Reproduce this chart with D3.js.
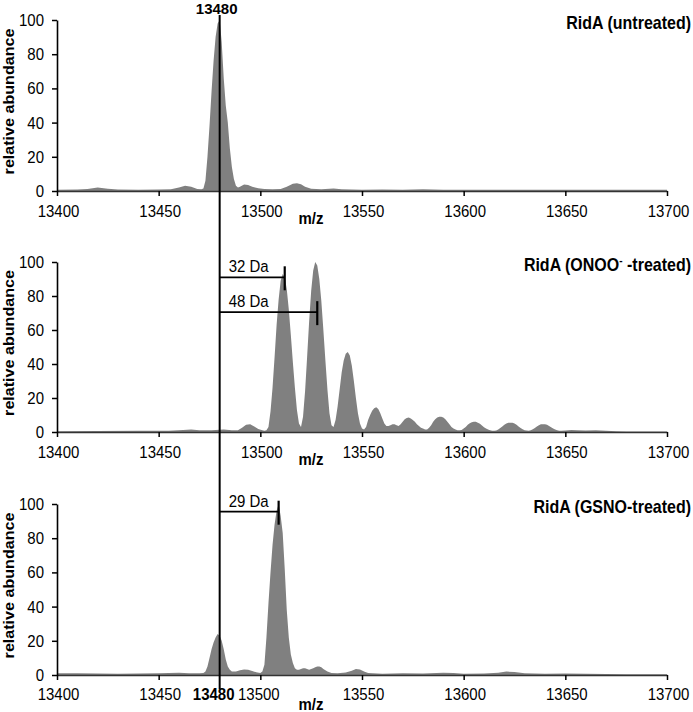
<!DOCTYPE html>
<html><head><meta charset="utf-8">
<script src="https://cdn.jsdelivr.net/npm/d3@7"></script>
<style>
body{margin:0;background:#fff}
svg{display:block}
text{font-family:"Liberation Sans",Arial,sans-serif;fill:#000}
</style>
</head><body>
<svg id="chart" width="693" height="712"></svg>
<script>
// ---------------- data ----------------
const xTicks = [13400, 13450, 13500, 13550, 13600, 13650, 13700];
const yTicks = [0, 20, 40, 60, 80, 100];
const refMass = 13480;

const untreated = [
  [13400,0.8],[13410,0.9],[13415,1.2],[13420,2],[13425,1.3],[13430,0.9],[13440,0.8],[13450,0.9],
  [13456,1],[13460,2],[13463,3],[13466,2.5],[13469,1.2],[13471,1],[13472,1.5],[13473,6],[13474,20],
  [13475,38],[13476,58],[13477,76],[13478,90],[13479,98],[13480,100],[13481,87],[13482,66],[13483,50],
  [13484,40],[13485,25],[13486,14],[13487,7],[13488,3],[13489,2],[13490,2.5],[13492,3.8],[13494,3.5],
  [13496,2.5],[13499,1.6],[13502,1.2],[13506,1],[13510,1.2],[13513,2.5],[13516,4.2],[13518,4.5],
  [13520,4],[13522,2.5],[13525,1.3],[13530,1],[13536,1.5],[13540,1],[13550,0.8],[13560,0.9],
  [13570,0.8],[13580,1],[13590,0.8],[13600,0.7],[13620,0.8],[13640,0.7],[13660,0.8],[13680,0.7],[13700,0.7]
];

const onooTreated = [
  [13400,0.5],[13420,0.6],[13440,0.7],[13455,0.8],[13462,1.2],[13466,1.4],[13470,1],[13476,1.1],
  [13482,1.4],[13486,1.1],[13489,1],[13491,2.5],[13493,4.2],[13495,4.5],[13497,3.3],[13499,1.8],
  [13501,1],[13502,0.8],[13503,1],[13504,3],[13505,12],[13506,26],[13507,44],[13508,63],[13509,78],
  [13510,89],[13511,93],[13512,91],[13513,84],[13514,72],[13515,57],[13516,41],[13517,26],[13518,13],
  [13519,5],[13520,3],[13521,9],[13522,24],[13523,44],[13524,65],[13525,83],[13526,95],[13527,100],
  [13528,98],[13529,90],[13530,77],[13531,60],[13532,42],[13533,25],[13534,11],[13535,4],[13536,3],
  [13537,7],[13538,15],[13539,25],[13540,35],[13541,42],[13542,46],[13543,47],[13544,45],[13545,39],
  [13546,30],[13547,20],[13548,11],[13549,5],[13550,2],[13551,1.5],[13552,3],[13553,7],[13554,10],
  [13555,12.5],[13556,14],[13557,14.5],[13558,13.5],[13559,11],[13560,8],[13561,5],[13562,3.5],
  [13563,3.5],[13564,4],[13565,4.5],[13566,4.5],[13567,4],[13568,3.5],[13569,4.5],[13570,6],[13571,7.5],
  [13572,8.3],[13573,8.5],[13574,8],[13575,7],[13576,6],[13577,4.5],[13578,3.5],[13579,2.5],[13580,2],
  [13581,1.5],[13582,1.5],[13583,2.5],[13584,4],[13585,6],[13586,7.5],[13587,8.5],[13588,9],[13589,9],
  [13590,8.5],[13591,7.5],[13592,6],[13593,4.5],[13594,3],[13595,2],[13596,1.5],[13597,1],[13598,1],
  [13599,1.2],[13600,2],[13601,3],[13602,4.2],[13603,5.2],[13604,5.8],[13605,6],[13606,6],[13607,5.5],
  [13608,4.8],[13609,3.8],[13610,2.8],[13611,2],[13612,1.4],[13613,1],[13614,0.8],[13615,0.8],
  [13616,0.9],[13617,1.4],[13618,2.3],[13619,3.3],[13620,4.3],[13621,5],[13622,5.5],[13623,5.5],
  [13624,5.5],[13625,5],[13626,4.2],[13627,3.2],[13628,2.3],[13629,1.6],[13630,1.1],[13631,0.9],
  [13632,0.8],[13633,1],[13634,1.6],[13635,2.4],[13636,3.3],[13637,4],[13638,4.5],[13639,4.6],
  [13640,4.5],[13641,4.2],[13642,3.6],[13643,2.8],[13644,2],[13645,1.4],[13646,1],[13647,0.8],
  [13648,0.7],[13650,0.9],[13653,1.2],[13656,1.1],[13660,0.9],[13665,1],[13670,0.7],[13675,0.4],
  [13680,0.3],[13700,0.3]
];

const gsnoTreated = [
  [13400,1],[13410,1],[13420,0.9],[13430,0.8],[13440,0.9],[13450,1],[13455,1.2],[13460,1.3],[13465,1],
  [13470,1],[13472,1.2],[13473,2],[13474,5],[13475,10],[13476,15],[13477,19],[13478,22],[13479,24],
  [13480,23],[13481,20],[13482,15],[13483,9],[13484,5],[13485,3],[13486,2],[13488,2],[13490,2.8],
  [13492,3.2],[13494,3],[13496,2.3],[13498,1.6],[13500,1.2],[13501,2],[13502,6],[13503,22],[13504,42],
  [13505,60],[13506,76],[13507,88],[13508,96],[13509,100],[13510,93],[13511,83],[13512,62],[13513,38],
  [13514,22],[13515,12],[13516,7],[13517,4],[13518,3],[13519,3],[13520,3.5],[13521,4],[13522,4],
  [13523,3.5],[13524,3],[13525,3.5],[13526,4],[13527,4.5],[13528,5],[13529,5],[13530,4.5],[13531,3.5],
  [13533,2],[13535,1.2],[13538,1],[13542,1.5],[13545,2.5],[13547,3.5],[13549,3.2],[13551,2],[13553,1.2],
  [13560,0.8],[13570,1],[13580,0.9],[13590,1.3],[13595,1.2],[13600,0.8],[13610,0.9],[13617,1.3],
  [13621,2],[13625,1.8],[13630,1],[13640,0.8],[13650,0.9],[13660,0.8],[13670,0.6],[13680,0.5],[13700,0.4]
];

const onooShifts = [{label: "32 Da", to: 13512, level: 91}, {label: "48 Da", to: 13528, level: 70.5}];
const gsnoShifts = [{label: "29 Da", to: 13509, level: 95.5}];

// ---------------- layout ----------------
const S = 1.15; // vertical stretch of the original figure's text
const svg = d3.select("#chart");
const x = d3.scaleLinear().domain([13400, 13700]).range([57, 667]);

const panels = [
  {data: untreated, top: 20, bottom: 191, title: "untreated", shifts: [], tickOff: 26, mzOff: 33},
  {data: onooTreated, top: 262, bottom: 432, title: "onoo", shifts: onooShifts, tickOff: 26, mzOff: 33},
  {data: gsnoTreated, top: 504, bottom: 675, title: "gsno", shifts: gsnoShifts, tickOff: 25, mzOff: 35}
];

panels.forEach((p, i) => {
  const y = d3.scaleLinear().domain([0, 100]).range([p.bottom, p.top]);
  const g = svg.append("g");

  // spectrum area
  const area = d3.area().x(d => x(d[0])).y0(y(0)).y1(d => y(d[1]));
  g.append("path").datum(p.data).attr("d", area).attr("fill", "#808080").attr("stroke", "none");

  // x axis
  const gx = g.append("g").attr("transform", `translate(0,${y(0)})`)
    .call(d3.axisBottom(x).tickValues(xTicks).tickSize(5).tickSizeOuter(0).tickFormat(d3.format("d")));
  gx.select(".domain").attr("stroke", "#333").attr("stroke-width", 1.6);
  gx.selectAll(".tick line").attr("stroke", "#000").attr("stroke-width", 1.5);
  gx.selectAll(".tick text").attr("y", null).attr("dy", null)
    .attr("transform", `translate(1,${p.tickOff}) scale(1,${S})`)
    .attr("font-size", 15);
  if (i === 2) {
    gx.selectAll(".tick text").filter(d => d === 13500).attr("transform", `translate(-2,${p.tickOff}) scale(1,${S})`);
  }

  // y axis
  const gy = g.append("g").attr("transform", `translate(${x.range()[0]},0)`)
    .call(d3.axisLeft(y).tickValues(yTicks).tickSize(5).tickSizeOuter(0));
  gy.select(".domain").attr("stroke", "#000").attr("stroke-width", 1.6);
  gy.selectAll(".tick line").attr("stroke", "#000").attr("stroke-width", 1.5);
  gy.selectAll(".tick text").attr("x", null).attr("dy", null)
    .attr("transform", `translate(-13,5.5) scale(1,${S})`)
    .attr("font-size", 15);

  // axis titles
  g.append("text").attr("transform", `translate(311,${y(0) + p.mzOff}) scale(1,${S})`)
    .attr("text-anchor", "middle").attr("font-size", 15).attr("font-weight", "bold").text("m/z");
  g.append("text").attr("transform", `translate(14,${(p.top + p.bottom) / 2 - 4}) rotate(-90) scale(${S},1)`)
    .attr("text-anchor", "middle").attr("font-size", 14).attr("font-weight", "bold").text("relative abundance");

  // panel title
  const t = g.append("text").attr("transform", `translate(691,${p.top + 9}) scale(1,${S})`)
    .attr("text-anchor", "end").attr("font-size", 16).attr("font-weight", "bold");
  if (p.title === "untreated") t.text("RidA (untreated)");
  else if (p.title === "gsno") t.text("RidA (GSNO-treated)");
  else {
    t.append("tspan").text("RidA (ONOO");
    t.append("tspan").attr("font-size", 10).attr("dy", -6).text("-");
    t.append("tspan").attr("dy", 6).text(" -treated)");
  }

  // mass shift annotations
  p.shifts.forEach(s => {
    const yy = y(s.level), x0 = x(refMass), x1 = x(s.to);
    g.append("line").attr("x1", x0).attr("x2", x1).attr("y1", yy).attr("y2", yy)
      .attr("stroke", "#000").attr("stroke-width", 1.8);
    g.append("line").attr("x1", x1).attr("x2", x1).attr("y1", yy - 11).attr("y2", yy + 13)
      .attr("stroke", "#000").attr("stroke-width", 2.2);
    g.append("text").attr("transform", `translate(${x0 + 9},${yy - 5}) scale(1,${S})`)
      .attr("font-size", 15).text(s.label);
  });
});

// reference line at 13480 through all panels
svg.append("line").attr("x1", x(refMass)).attr("x2", x(refMass)).attr("y1", 15).attr("y2", 689)
  .attr("stroke", "#000").attr("stroke-width", 2);
svg.append("text").attr("transform", `translate(${x(refMass) - 3},13.5)`)
  .attr("text-anchor", "middle").attr("font-size", 15).attr("font-weight", "bold").text(String(refMass));
svg.append("text").attr("transform", `translate(${x(refMass) - 6},${675 + 25}) scale(1,${S})`)
  .attr("text-anchor", "middle").attr("font-size", 15).attr("font-weight", "bold").text(String(refMass));
</script>
</body></html>
